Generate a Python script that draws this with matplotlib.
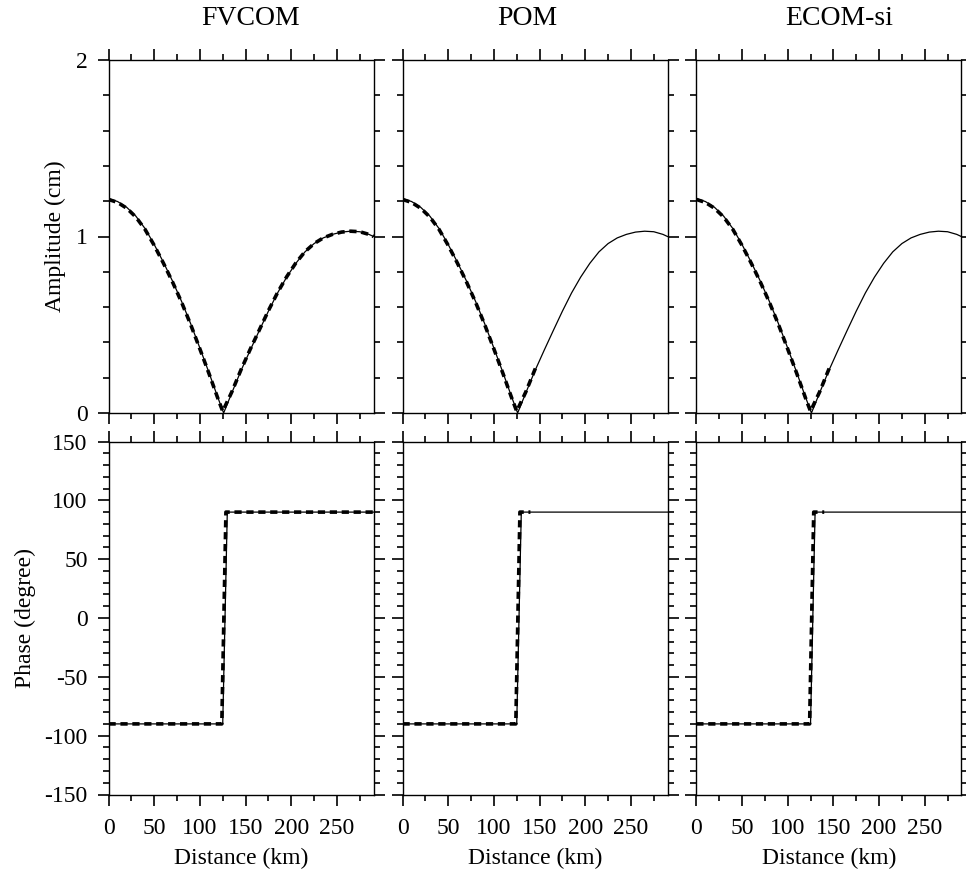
import numpy as np
import matplotlib
matplotlib.use("Agg")
import matplotlib.pyplot as plt
from matplotlib.ticker import MultipleLocator

plt.rcParams['font.family'] = ['Liberation Serif', 'DejaVu Serif']
plt.rcParams['axes.unicode_minus'] = False

# analytic solution (solid line)
x_amp = [0, 10, 20, 30, 40, 50, 60, 70, 80, 90, 100, 110, 120, 126,
         135, 145, 155, 165, 175, 185, 195, 205, 215, 225, 235, 245,
         255, 265, 275, 285, 290]
amp = [1.215, 1.198, 1.165, 1.115, 1.045, 0.955, 0.855, 0.748, 0.632, 0.505,
       0.368, 0.228, 0.083, 0.0,
       0.115, 0.24, 0.355, 0.467, 0.577, 0.68, 0.77, 0.848, 0.913, 0.96,
       0.992, 1.012, 1.025, 1.03, 1.027, 1.012, 1.0]
x_pha = [0, 125, 130, 290]
pha = [-90, -90, 90, 90]

# model results (dashed line)
models = ["FVCOM", "POM", "ECOM-si"]
xm_amp_full = [0, 10, 20, 30, 40, 50, 60, 70, 80, 90, 100, 110, 120, 125,
               135, 145, 155, 165, 175, 185, 195, 205, 215, 225, 235, 245,
               255, 265, 275, 285, 290]
m_amp_full = [1.21, 1.193, 1.16, 1.11, 1.04, 0.95, 0.85, 0.743, 0.627,
              0.5, 0.363, 0.223, 0.078, 0.01,
              0.12, 0.245, 0.36, 0.47, 0.58, 0.682, 0.772, 0.85, 0.914,
              0.96, 0.992, 1.012, 1.025, 1.03, 1.027, 1.012, 1.0]
xm_amp_part = [0, 10, 20, 30, 40, 50, 60, 70, 80, 90, 100, 110, 120, 125,
               135, 146]
m_amp_part = [1.21, 1.193, 1.16, 1.11, 1.04, 0.95, 0.85, 0.743, 0.627,
              0.5, 0.363, 0.223, 0.078, 0.01, 0.12, 0.26]
xm_pha_full = [0, 124, 128.5, 290]
xm_pha_part = [0, 124, 128.5, 140]
m_pha = [-90, -90, 90, 90]

model_amp = {"FVCOM": (xm_amp_full, m_amp_full),
             "POM": (xm_amp_part, m_amp_part),
             "ECOM-si": (xm_amp_part, m_amp_part)}
model_pha = {"FVCOM": (xm_pha_full, m_pha),
             "POM": (xm_pha_part, m_pha),
             "ECOM-si": (xm_pha_part, m_pha)}

W, H = 966, 873
fig = plt.figure(figsize=(W / 100, H / 100), dpi=100)

lefts = [108.5, 402.5, 696.3]
aw = 265.0
tops = [60.0, 441.5]
ah = 353.0
title_x = [0.349, 0.357, 0.334]


def style(ax):
    ax.tick_params(which='both', direction='out', top=True, right=True,
                   width=1.2, labelsize=17)
    ax.tick_params(which='major', length=8)
    ax.tick_params(which='minor', length=4.3)
    ax.tick_params(axis='x', pad=9)
    ax.tick_params(axis='y', pad=7)
    for s in ax.spines.values():
        s.set_linewidth(1.0)
    ax.set_xlim(0, 290)
    ax.xaxis.set_major_locator(MultipleLocator(50))
    ax.xaxis.set_minor_locator(MultipleLocator(25))


for j, name in enumerate(models):
    # amplitude
    ax = fig.add_axes([lefts[j] / W, 1 - (tops[0] + ah) / H, aw / W, ah / H])
    ax.plot(x_amp, amp, color='k', lw=0.9)
    xm, ym = model_amp[name]
    ax.plot(xm, ym, color='k', lw=2.6, dashes=(2.0, 1.3))
    style(ax)
    ax.set_ylim(0, 2)
    ax.yaxis.set_major_locator(MultipleLocator(1))
    ax.yaxis.set_minor_locator(MultipleLocator(0.2))
    ax.tick_params(labelbottom=False)
    if j == 0:
        ax.set_ylabel("Amplitude (cm)", fontsize=17)
        ax.yaxis.set_label_coords(-0.16, 0.5)
    else:
        ax.tick_params(labelleft=False)
    ax.text(title_x[j], 1.099, name, transform=ax.transAxes, fontsize=20,
            ha='left', va='baseline')

    # phase
    ax = fig.add_axes([lefts[j] / W, 1 - (tops[1] + ah) / H, aw / W, ah / H])
    ax.plot(x_pha, pha, color='k', lw=0.9)
    xm, ym = model_pha[name]
    ax.plot(xm, ym, color='k', lw=2.6, dashes=(2.0, 1.3))
    style(ax)
    ax.set_ylim(-150, 150)
    ax.yaxis.set_major_locator(MultipleLocator(50))
    ax.yaxis.set_minor_locator(MultipleLocator(10))
    ax.set_xlabel("Distance (km)", fontsize=17, labelpad=6)
    if j == 0:
        ax.set_ylabel("Phase (degree)", fontsize=17)
        ax.yaxis.set_label_coords(-0.274, 0.5)
    else:
        ax.tick_params(labelleft=False)

fig.savefig("out.png", dpi=100)
